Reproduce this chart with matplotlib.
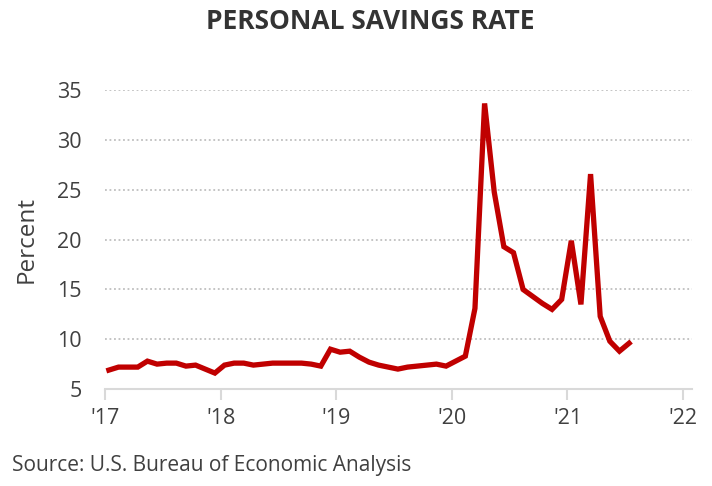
import matplotlib
matplotlib.use("Agg")
import matplotlib.pyplot as plt
from matplotlib import font_manager

# --- Data: monthly personal saving rate, Jan 2017 .. Jul 2021 (percent) ---
start_year = 2017
rate = [
    6.9, 7.2, 7.2, 7.2, 7.8, 7.5, 7.6, 7.6, 7.3, 7.4, 7.0, 6.6,   # 2017
    7.4, 7.6, 7.6, 7.4, 7.5, 7.6, 7.6, 7.6, 7.6, 7.5, 7.3, 9.0,   # 2018
    8.7, 8.8, 8.2, 7.7, 7.4, 7.2, 7.0, 7.2, 7.3, 7.4, 7.5, 7.3,   # 2019
    7.8, 8.3, 13.1, 33.7, 24.8, 19.3, 18.7, 15.0, 14.3, 13.6, 13.0, 14.0,  # 2020
    19.9, 13.5, 26.6, 12.3, 9.8, 8.8, 9.6,                        # 2021
]
year_ticks = [2017, 2018, 2019, 2020, 2021, 2022]
year_labels = ["'17", "'18", "'19", "'20", "'21", "'22"]
y_ticks = [5, 10, 15, 20, 25, 30, 35]

months = [start_year + (i + 0.4) / 12 for i in range(len(rate))]

installed = {f.name for f in font_manager.fontManager.ttflist}
family = [f for f in ["Open Sans", "DejaVu Sans"] if f in installed]
plt.rcParams["font.family"] = family

fig = plt.figure(figsize=(7.12, 4.86), dpi=100)
ax = fig.add_axes([0.1475, 0.1996, 0.972 - 0.1475, 0.8138 - 0.1996])

ax.plot(months, rate, color="#C00000", linewidth=3.8, solid_joinstyle="miter")

ax.set_xlim(2017, 2022.078)
ax.set_ylim(5, 35)
ax.set_yticks(y_ticks)
ax.set_xticks(year_ticks)
ax.set_xticklabels(year_labels)

ax.yaxis.grid(True, linestyle=(0, (1, 1.5)), color="#bfbfbf", linewidth=1.3)
ax.set_axisbelow(True)

for side in ["top", "right", "left"]:
    ax.spines[side].set_visible(False)
ax.spines["bottom"].set_color("#d9d9d9")
ax.spines["bottom"].set_linewidth(1.5)

ax.tick_params(axis="x", length=8, width=1.5, color="#d9d9d9", pad=6,
               labelsize=15.5, labelcolor="#404040")
ax.tick_params(axis="y", length=0, pad=17, labelsize=15.5, labelcolor="#404040")

ax.set_ylabel("Percent", fontsize=17.5, color="#404040", labelpad=13)

fig.text(0.52, 0.955, "PERSONAL SAVINGS RATE", ha="center", va="center",
         fontsize=19, fontweight="bold", color="#333333")
fig.text(0.017, 0.043, "Source: U.S. Bureau of Economic Analysis", ha="left", va="center",
         fontsize=15, color="#404040")

fig.savefig("out.png", dpi=100)
plt.close(fig)
